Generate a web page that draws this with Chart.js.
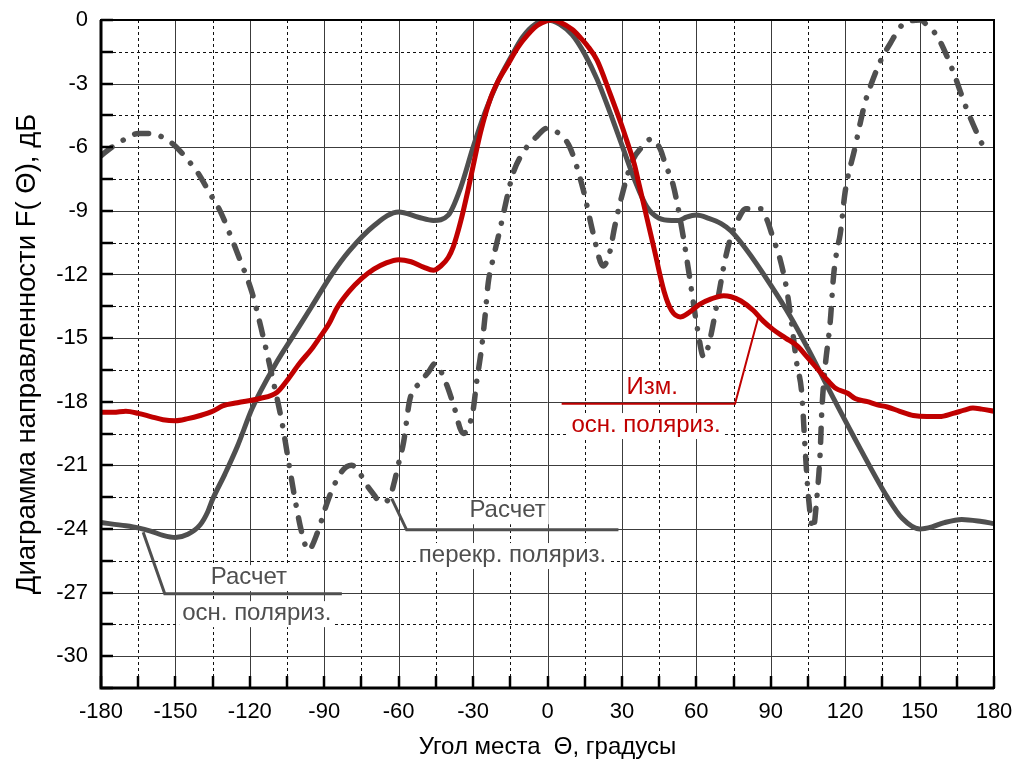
<!DOCTYPE html>
<html>
<head>
<meta charset="utf-8">
<script src="https://cdn.jsdelivr.net/npm/chart.js@4.4.1/dist/chart.umd.min.js"></script>
<style>
  html, body { margin: 0; padding: 0; background: #fff; }
  canvas { display: block; }
</style>
</head>
<body>
<canvas id="chart" width="1018" height="764"></canvas>
<script>
// Расчет, основная поляризация
const mainCalcDeg = [-180, -170, -165, -160, -155, -150, -145, -140, -137, -135, -130, -125, -119, -110, -102, -95, -87, -80, -70, -60, -52, -46, -40, -35, -30, -25, -20, -15, -10, -5, 0, 5, 10, 15, 20, 25, 30, 35, 40, 45, 50, 53, 56, 60, 65, 70, 74, 80, 90, 98, 105, 116, 126, 137, 143, 150, 155, 160, 167, 175, 180];
const mainCalcDb = [-23.7, -23.85, -23.95, -24.1, -24.3, -24.4, -24.25, -23.8, -23.2, -22.6, -21.4, -20.1, -18.3, -16.3, -14.8, -13.5, -12.0, -10.9, -9.7, -9.05, -9.3, -9.45, -9.2, -7.9, -6.0, -4.3, -2.9, -1.8, -0.8, -0.2, 0, -0.2, -0.7, -1.6, -2.8, -4.3, -5.9, -7.5, -8.8, -9.35, -9.45, -9.45, -9.3, -9.2, -9.35, -9.6, -9.95, -10.8, -12.5, -14.0, -15.5, -18.0, -20.2, -22.5, -23.5, -24.0, -23.9, -23.7, -23.55, -23.65, -23.75];

// Изм., основная поляризация
const measDeg = [-180, -175, -170, -165, -160, -155, -150, -145, -140, -135, -131, -125, -116, -109, -105, -100, -95, -92, -88, -85, -80, -75, -70, -65, -60, -55, -50, -46, -43, -40, -38, -35, -32, -30, -27, -23, -20, -16, -12, -8, -4, 0, 2, 5, 10, 13, 16, 20, 25, 30, 32, 35, 37, 40, 43, 47, 50, 53.5, 57, 61.5, 66, 71, 74, 78, 83, 87, 91, 96, 101, 104, 107, 113, 116, 121, 124, 129, 133, 137, 142, 147.5, 153, 158, 163.5, 168, 171.5, 175, 180];
const measDb = [-18.5, -18.5, -18.45, -18.55, -18.7, -18.85, -18.9, -18.8, -18.65, -18.45, -18.2, -18.05, -17.85, -17.55, -17.0, -16.2, -15.5, -15.0, -14.3, -13.6, -12.8, -12.2, -11.75, -11.45, -11.3, -11.4, -11.65, -11.8, -11.6, -11.2, -10.7, -9.5, -8.0, -6.9, -5.3, -3.7, -2.9, -2.1, -1.3, -0.7, -0.25, -0.03, 0, -0.1, -0.45, -0.8, -1.2, -1.9, -3.4, -5.0, -5.7, -6.8, -7.8, -9.3, -10.8, -12.8, -13.7, -14.0, -13.8, -13.4, -13.15, -13.0, -13.05, -13.25, -13.7, -14.2, -14.6, -15.0, -15.4, -15.8, -16.2, -17.0, -17.35, -17.6, -17.85, -18.0, -18.15, -18.25, -18.45, -18.65, -18.7, -18.7, -18.55, -18.4, -18.3, -18.35, -18.45];

// Расчет, перекрестная поляризация
const crossDeg = [-180, -175, -170, -165, -160, -154, -150, -145, -141, -136, -132, -127, -125, -119, -114.6, -111, -107, -104, -101, -99, -96.5, -92.5, -89.8, -87, -83, -79, -76, -73.6, -70.5, -67, -63.5, -62, -60, -58, -55.5, -51.4, -48, -45.4, -41, -38, -34, -30, -28.6, -26.5, -25.2, -23.9, -21.9, -19.2, -16, -13.8, -9, -4.4, 0, 4, 9, 14.4, 18.5, 22.4, 25, 27, 29.2, 34, 38, 42, 45.5, 47.5, 50.7, 54.7, 57.5, 60.5, 63, 64.8, 68.3, 71.6, 74, 77, 80, 86, 88.4, 91, 93.8, 96.5, 98.5, 100.5, 102.5, 103.9, 105.2, 107.1, 108.6, 109.9, 110.6, 111.9, 114, 115.3, 116.7, 118, 120, 124, 126, 128, 130.1, 134.1, 138.2, 142.9, 147, 150.3, 153, 157, 161, 164.4, 167.7, 170.4, 173, 175.8];
const crossDb = [-6.4, -5.95, -5.6, -5.35, -5.35, -5.6, -5.95, -6.6, -7.2, -8.2, -9.0, -10.4, -11.0, -12.9, -14.95, -16.8, -19.0, -21.1, -23.1, -24.2, -25.0, -24.1, -23.1, -22.2, -21.3, -21.0, -21.3, -21.8, -22.3, -22.75, -22.5, -21.9, -20.9, -19.9, -17.9, -17.1, -16.6, -16.2, -17.1, -18.1, -19.5, -18.4, -17.1, -15.4, -14.0, -12.4, -11.25, -9.9, -8.2, -7.2, -6.1, -5.5, -5.1, -5.3, -6.0, -8.0, -10.1, -11.6, -11.0, -9.8, -8.65, -6.7, -6.0, -5.6, -6.1, -6.8, -7.8, -10.2, -12.3, -14.6, -15.9, -15.4, -13.4, -11.3, -10.2, -9.36, -8.9, -8.9, -9.4, -10.3, -11.3, -12.75, -14.4, -16.2, -17.6, -20.3, -22.5, -24.0, -22.5, -20.45, -18.4, -16.4, -14.2, -12.1, -10.85, -10.1, -8.1, -6.0, -4.9, -3.9, -3.15, -1.97, -1.1, -0.24, -0.03, 0, -0.24, -0.75, -1.7, -2.7, -3.8, -4.6, -5.3, -6.0];

// выноски к подписям
const leadMainDeg = [-163, -154.3, -82.9];
const leadMainDb = [-24.15, -27.05, -27.05];
const leadCrossDeg = [-62.8, -56.8, 28.6];
const leadCrossDb = [-22.57, -24.04, -24.04];
const leadMeasDeg = [85, 75.6, 5.7];
const leadMeasDb = [-14.0, -18.1, -18.1];

const GRAY = '#4f4f4f';
const RED = '#c00000';

// подписи кривых: точка привязки в единицах осей (угол, дБ), базовая линия текста
const notes = [
  { text: 'Расчет', at: [-120.4, -26.6], color: GRAY },
  { text: 'осн. поляриз.', at: [-117.2, -28.3], color: GRAY },
  { text: 'Расчет', at: [-16.1, -23.45], color: GRAY },
  { text: 'перекр. поляриз.', at: [-14.1, -25.56], color: GRAY },
  { text: 'Изм.', at: [42.2, -17.62], color: RED },
  { text: 'осн. поляриз.', at: [39.7, -19.43], color: RED },
];

function pts(xs, ys) {
  return xs.map((x, i) => ({ x: x, y: ys[i] }));
}

function isMajor(v, step) {
  const k = v / step;
  return Math.abs(k - Math.round(k)) < 1e-6;
}

Chart.defaults.font.family = "'Liberation Sans', Arial, sans-serif";
Chart.defaults.color = '#000';

// сетка, подписи на белом фоне
const gridAndNotes = {
  id: 'gridAndNotes',
  beforeDatasetsDraw(chart) {
    const { ctx, chartArea: a, scales: { x, y } } = chart;
    ctx.save();
    ctx.lineWidth = 1;
    x.ticks.forEach((t) => {
      const px = Math.round(x.getPixelForValue(t.value)) + 0.5;
      const major = isMajor(t.value, 30);
      ctx.strokeStyle = major ? '#3c3c3c' : '#111';
      ctx.setLineDash(major ? [] : [3, 3]);
      ctx.beginPath();
      ctx.moveTo(px, a.top);
      ctx.lineTo(px, a.bottom);
      ctx.stroke();
    });
    y.ticks.forEach((t) => {
      const py = Math.round(y.getPixelForValue(t.value)) + 0.5;
      const major = isMajor(t.value, 3);
      ctx.strokeStyle = major ? '#3c3c3c' : '#111';
      ctx.setLineDash(major ? [] : [3, 3]);
      ctx.beginPath();
      ctx.moveTo(a.left, py);
      ctx.lineTo(a.right, py);
      ctx.stroke();
    });
    ctx.setLineDash([]);

    ctx.font = "24px 'Liberation Sans', Arial, sans-serif";
    ctx.textAlign = 'center';
    ctx.textBaseline = 'alphabetic';
    notes.forEach((n) => {
      const px = x.getPixelForValue(n.at[0]);
      const py = y.getPixelForValue(n.at[1]);
      const w = ctx.measureText(n.text).width;
      ctx.fillStyle = '#fff';
      ctx.fillRect(px - w / 2 - 3, py - 19, w + 6, 26);
      ctx.fillStyle = n.color;
      ctx.fillText(n.text, px, py);
    });
    ctx.restore();
  },
  afterDraw(chart) {
    const { ctx, chartArea: a, scales: { x, y } } = chart;
    ctx.save();
    ctx.strokeStyle = '#000';
    // внутренние засечки
    ctx.lineWidth = 2.5;
    x.ticks.forEach((t) => {
      const px = Math.round(x.getPixelForValue(t.value));
      ctx.beginPath();
      ctx.moveTo(px, a.bottom);
      ctx.lineTo(px, a.bottom - 12);
      ctx.stroke();
    });
    y.ticks.forEach((t) => {
      const py = Math.round(y.getPixelForValue(t.value));
      ctx.beginPath();
      ctx.moveTo(a.left, py);
      ctx.lineTo(a.left + 12, py);
      ctx.stroke();
    });
    // рамка
    ctx.lineWidth = 2;
    ctx.strokeRect(a.left, a.top, a.right - a.left, a.bottom - a.top);
    ctx.lineWidth = 3;
    ctx.beginPath();
    ctx.moveTo(a.left, a.top);
    ctx.lineTo(a.left, a.bottom);
    ctx.lineTo(a.right, a.bottom);
    ctx.stroke();
    ctx.restore();
  },
};

const curve = {
  fill: false,
  pointRadius: 0,
  borderWidth: 5,
  cubicInterpolationMode: 'monotone',
  borderCapStyle: 'round',
  borderJoinStyle: 'round',
};

const leader = {
  fill: false,
  pointRadius: 0,
  tension: 0,
  borderJoinStyle: 'miter',
};

new Chart(document.getElementById('chart'), {
  type: 'line',
  data: {
    datasets: [
      { ...curve, label: 'Изм. осн. поляриз.', data: pts(measDeg, measDb), borderColor: RED },
      { ...curve, label: 'Расчет осн. поляриз.', data: pts(mainCalcDeg, mainCalcDb), borderColor: GRAY },
      {
        ...curve,
        label: 'Расчет перекр. поляриз.',
        data: pts(crossDeg, crossDb),
        borderColor: GRAY,
        borderWidth: 5.5,
        borderDash: [14, 13, 0.1, 13],
      },
      { ...leader, data: pts(leadMainDeg, leadMainDb), borderColor: GRAY, borderWidth: 3 },
      { ...leader, data: pts(leadCrossDeg, leadCrossDb), borderColor: GRAY, borderWidth: 3 },
      { ...leader, data: pts(leadMeasDeg, leadMeasDb), borderColor: RED, borderWidth: 2 },
    ],
  },
  options: {
    responsive: false,
    animation: false,
    layout: { padding: { top: 20, right: 24, left: 0, bottom: 0 } },
    plugins: {
      legend: { display: false },
      tooltip: { enabled: false },
    },
    scales: {
      x: {
        type: 'linear',
        min: -180,
        max: 180,
        grid: { display: false, drawTicks: false },
        border: { display: false },
        ticks: {
          stepSize: 15,
          padding: 11,
          maxRotation: 0,
          autoSkip: false,
          font: { size: 22 },
          callback: (v) => (isMajor(v, 30) ? String(v) : ''),
        },
        title: {
          display: true,
          text: 'Угол места  Θ, градусы',
          font: { size: 24 },
          padding: { top: 0, bottom: 2 },
        },
        afterFit: (scale) => {
          scale.height = 76;
          scale.paddingLeft = 0;
          scale.paddingRight = 0;
        },
      },
      y: {
        min: -31.5,
        max: 0,
        grid: { display: false, drawTicks: false },
        border: { display: false },
        ticks: {
          stepSize: 1.5,
          padding: 13,
          autoSkip: false,
          font: { size: 22 },
          callback: (v) => (isMajor(v, 3) ? String(v) : ''),
        },
        title: {
          display: true,
          text: 'Диаграмма направленности F( Θ), дБ',
          font: { size: 27.5 },
          padding: { top: 11, bottom: 0 },
        },
        afterFit: (scale) => {
          scale.width = 101;
          scale.paddingTop = 0;
          scale.paddingBottom = 0;
        },
      },
    },
  },
  plugins: [gridAndNotes],
});
</script>
</body>
</html>
